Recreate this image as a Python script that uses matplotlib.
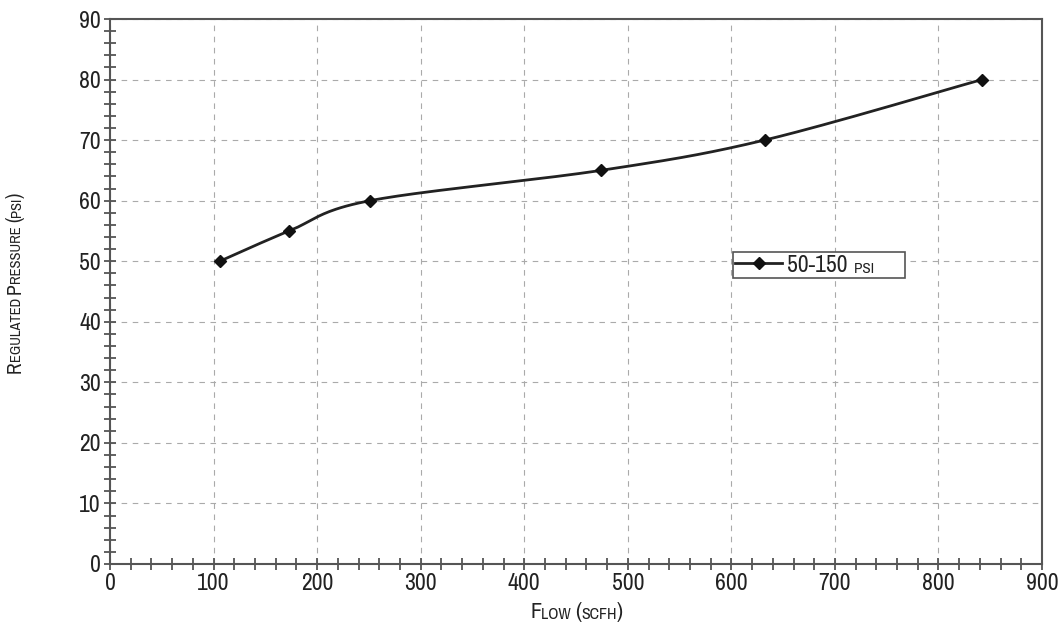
import numpy as np
import matplotlib
matplotlib.use("Agg")
import matplotlib.pyplot as plt
from matplotlib import font_manager
from matplotlib.ticker import MultipleLocator

# data
flow_scfh = [106, 173, 251, 474, 632, 842]
pressure_psi = [50, 55, 60, 65, 70, 80]
series_label = "50-150"

# the original uses a condensed sans; use one if installed
installed = {f.name for f in font_manager.fontManager.ttflist}
narrow = [n for n in sorted(installed) if "Narrow" in n or "Condensed" in n]
plt.rcParams["font.family"] = narrow[:1] + ["Liberation Sans", "DejaVu Sans"]


def smooth_curve(xs, ys, n=40):
    # bezier smoothing similar to spreadsheet "smoothed line"
    pts = np.column_stack([xs, ys]).astype(float)
    padded = np.vstack([pts[0], pts, pts[-1]])
    t = np.linspace(0, 1, n)[:, None]
    out = []
    for i in range(len(pts) - 1):
        p0, p1 = padded[i + 1], padded[i + 2]
        c1 = p0 + (padded[i + 2] - padded[i]) / 6
        c2 = p1 - (padded[i + 3] - padded[i + 1]) / 6
        seg = (1 - t) ** 3 * p0 + 3 * (1 - t) ** 2 * t * c1 + 3 * (1 - t) * t ** 2 * c2 + t ** 3 * p1
        out.append(seg)
    out = np.vstack(out)
    return out[:, 0], out[:, 1]


def small_caps(ax, parts, x, y, big=12, small=9, rotation=0):
    # parts: list of (text, is_big); chained text pieces
    prev = None
    for txt, is_big in parts:
        size = big if is_big else small
        if rotation == 90:
            anchor = dict(xy=(x, y), xycoords="axes fraction") if prev is None else dict(xy=(1, 1), xycoords=prev)
            prev = ax.annotate(txt, fontsize=size, rotation=90, ha="right", va="bottom",
                               color="#222222", annotation_clip=False, **anchor)
        else:
            if prev is None:
                prev = ax.annotate(txt, xy=(x, y), xycoords="axes fraction", fontsize=size,
                                   ha="left", va="baseline", color="#222222", annotation_clip=False)
            else:
                prev = ax.annotate(txt, xy=(1, 0), xycoords=prev, fontsize=size,
                                   ha="left", va="bottom", color="#222222", annotation_clip=False)
    return prev


fig = plt.figure(figsize=(10.59, 6.25), dpi=100)
ax = fig.add_axes([0.1039, 0.0976, 0.8801, 0.872])

sx, sy = smooth_curve(flow_scfh, pressure_psi)
ax.plot(sx, sy, color="#222222", linewidth=2, zorder=3)
ax.plot(flow_scfh, pressure_psi, linestyle="none", marker="D", markersize=6,
        color="#111111", zorder=4)
# proxy for legend (line + marker)
legend_line, = ax.plot([], [], color="#222222", linewidth=2, marker="D", markersize=6,
                       markerfacecolor="#111111", markeredgecolor="#111111", label=series_label)

ax.set_xlim(0, 900)
ax.set_ylim(0, 90)
ax.xaxis.set_major_locator(MultipleLocator(100))
ax.xaxis.set_minor_locator(MultipleLocator(20))
ax.yaxis.set_major_locator(MultipleLocator(10))
ax.yaxis.set_minor_locator(MultipleLocator(2))
ax.tick_params(which="major", direction="inout", length=9, width=1.3, color="#555555",
               labelsize=17, labelcolor="#222222", pad=2)
ax.tick_params(which="minor", direction="inout", length=8, width=1.3, color="#555555")
for side in ["top", "right", "left", "bottom"]:
    ax.spines[side].set_color("#555555")
    ax.spines[side].set_linewidth(1.5)
ax.grid(True, which="major", linestyle=(0, (5, 5)), color="#aaaaaa", linewidth=0.8)
ax.set_axisbelow(True)

leg = ax.legend(handles=[legend_line], loc="lower left",
                bbox_to_anchor=(0.668, 0.5248, 0.1845, 0.0514), mode="expand",
                fontsize=17, frameon=True, fancybox=False, framealpha=1,
                edgecolor="#555555", borderpad=0.1, handlelength=2.0,
                handletextpad=0.2, borderaxespad=0)
leg.get_frame().set_linewidth(1.2)
leg_text = leg.get_texts()[0]
leg_text.set_color("#222222")
ax.annotate("  PSI", xy=(1, 0), xycoords=leg_text, fontsize=11, ha="left", va="bottom",
            color="#222222", zorder=10)

# axis titles in small caps
small_caps(ax, [("F", True), ("LOW ", False), ("(", True), ("SCFH", False), (")", True)],
           0.451, -0.099, big=16, small=11.5)
small_caps(ax, [("R", True), ("EGULATED ", False), ("P", True), ("RESSURE ", False),
                ("(", True), ("PSI", False), (")", True)],
           -0.092, 0.350, big=14, small=10.5, rotation=90)

fig.savefig("out.png", dpi=100)
